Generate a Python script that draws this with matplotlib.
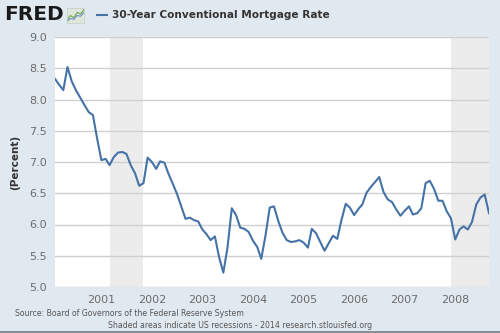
import matplotlib
matplotlib.use("Agg")
import matplotlib.pyplot as plt
import matplotlib.patches as mpatches
import pandas as pd

dates = pd.date_range("2000-02-01", "2008-09-01", freq="MS")
rates = [8.33, 8.24, 8.15, 8.52, 8.29, 8.15, 8.03, 7.91, 7.80, 7.75, 7.38,
         7.03, 7.05, 6.95, 7.08, 7.15, 7.16, 7.13, 6.95, 6.82, 6.62, 6.66, 7.07,
         7.00, 6.89, 7.01, 6.99, 6.81, 6.65, 6.49, 6.29, 6.09, 6.11, 6.07, 6.05,
         5.92, 5.84, 5.75, 5.81, 5.48, 5.23, 5.63, 6.26, 6.15, 5.95, 5.93, 5.88,
         5.74, 5.64, 5.45, 5.83, 6.27, 6.29, 6.06, 5.87, 5.75, 5.72, 5.73, 5.75,
         5.71, 5.63, 5.93, 5.86, 5.72, 5.58, 5.70, 5.82, 5.77, 6.07, 6.33, 6.27,
         6.15, 6.25, 6.32, 6.51, 6.60, 6.68, 6.76, 6.52, 6.40, 6.36, 6.24, 6.14,
         6.22, 6.29, 6.16, 6.18, 6.26, 6.66, 6.70, 6.57, 6.38, 6.38, 6.21, 6.10,
         5.76, 5.92, 5.97, 5.92, 6.04, 6.32, 6.43, 6.48, 6.18]
recessions = [("2001-03-01", "2001-11-01"), ("2007-12-01", "2008-09-01")]
year_ticks = [2001, 2002, 2003, 2004, 2005, 2006, 2007, 2008]
y_ticks = [5.0, 5.5, 6.0, 6.5, 7.0, 7.5, 8.0, 8.5, 9.0]
icon_a = [0.2, 0.5, 0.35, 0.7, 0.6, 0.9]
icon_b = [0.1, 0.3, 0.25, 0.5, 0.45, 0.7]

bg = "#e1e9f0"
fig = plt.figure(figsize=(5, 3.33), dpi=100, facecolor=bg)
ax = fig.add_axes([55/500, 46/333, 434/500, 250/333])
ax.set_facecolor("white")

for s, e in recessions:
    ax.axvspan(pd.Timestamp(s), pd.Timestamp(e), color="#ececec", lw=0, zorder=0)

ax.plot(dates, rates, color="#4572a7", lw=1.5, zorder=3)

ax.set_xlim(dates[0], dates[-1])
ax.set_ylim(5.0, 9.0)
ax.set_yticks(y_ticks)
ax.set_yticklabels([f"{v:.1f}" for v in y_ticks])
ax.set_xticks([pd.Timestamp(f"{y}-01-01") for y in year_ticks])
ax.set_xticklabels([str(y) for y in year_ticks])
ax.grid(axis="y", color="#d0d0d0", lw=1, zorder=1)
ax.set_axisbelow(True)
for sp in ax.spines.values():
    sp.set_visible(False)
ax.tick_params(axis="both", length=0, labelsize=8, colors="#6b6b6b")
ax.tick_params(axis="y", pad=6)
ax.tick_params(axis="x", pad=6)
ax.set_ylabel("(Percent)", fontsize=7.5, fontweight="bold", color="#333333", labelpad=6)

fig.text(4/500, 1 - 15/333, "FRED", fontsize=14.5, fontweight="heavy", color="#1a1a1a",
         va="center", ha="left")
# small chart icon next to the logo
iax = fig.add_axes([67/500, 1 - 23/333, 17/500, 15/333])
iax.set_facecolor("#dfe6dc")
iax.plot(range(len(icon_a)), icon_a, color="#6aa84f", lw=0.8)
iax.plot(range(len(icon_b)), icon_b, color="#6d8fbf", lw=0.8)
iax.set_xlim(0, len(icon_a) - 1)
iax.set_ylim(0, 1)
iax.set_xticks([])
iax.set_yticks([])
for sp in iax.spines.values():
    sp.set_color("#c8cfc6")
    sp.set_linewidth(0.5)

fig.add_artist(plt.Line2D([97/500, 107/500], [1 - 15/333, 1 - 15/333], color="#4572a7", lw=1.5))
fig.text(112/500, 1 - 15/333, "30-Year Conventional Mortgage Rate", fontsize=7.6,
         fontweight="bold", color="#333333", va="center", ha="left")

fig.text(15/500, 1 - 313/333, "Source: Board of Governors of the Federal Reserve System",
         fontsize=5.6, color="#555555", va="center", ha="left")
fig.text(108/500, 1 - 325/333, "Shaded areas indicate US recessions - 2014 research.stlouisfed.org",
         fontsize=5.6, color="#555555", va="center", ha="left")

fig.add_artist(mpatches.Rectangle((0, 0), 1, 2/333, transform=fig.transFigure,
                                  color="#8a8f94", lw=0))

fig.savefig("out.png", dpi=100, facecolor=bg)
